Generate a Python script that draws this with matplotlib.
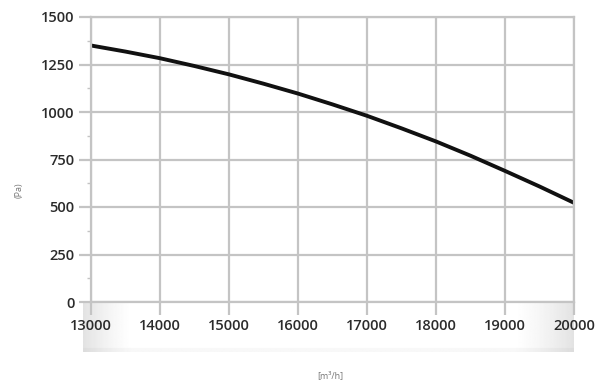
import numpy as np
import matplotlib
matplotlib.use('Agg')
import matplotlib.pyplot as plt
from matplotlib.ticker import MultipleLocator

# fan curve: airflow (m3/h) vs static pressure (Pa)
airflow = [13000, 13500, 14000, 14500, 15000, 15500, 16000, 16500,
           17000, 17500, 18000, 18500, 19000, 19500, 20000]
pressure = [1350, 1318, 1283, 1242, 1198, 1149, 1097, 1040,
            980, 914, 845, 770, 690, 608, 522]

x_ticks = [13000, 14000, 15000, 16000, 17000, 18000, 19000, 20000]
y_ticks = [0, 250, 500, 750, 1000, 1250, 1500]

grid_col = '#c4c4c4'
text_col = '#2b2b2b'

plt.rcParams['font.family'] = ['Open Sans', 'DejaVu Sans']

fig = plt.figure(figsize=(6.01, 3.83), dpi=100)

# soft grey band under the x axis
band = fig.add_axes([83 / 601, 1 - 352 / 383, (574 - 83) / 601, 49 / 383])
xs = np.linspace(0, 1, 400)
left = np.clip(1 - xs / 0.10, 0, 1)
right = np.clip((xs - 0.88) / 0.12, 0, 1)
row = 1 - 0.11 * np.maximum(left, right) ** 1.3
ys = np.linspace(0, 1, 60)
col = np.where(ys > 0.93, 0.97, 1.0)
img = np.outer(col, row)
band.imshow(img, cmap='gray', vmin=0, vmax=1, aspect='auto', interpolation='bilinear')
band.axis('off')

ax = fig.add_axes([91 / 601, 1 - 302 / 383, (574 - 91) / 601, (302 - 17) / 383])
ax.set_xlim(13000, 20000)
ax.set_ylim(0, 1500)
ax.set_xticks(x_ticks)
ax.set_yticks(y_ticks)
ax.yaxis.set_minor_locator(MultipleLocator(125))
ax.grid(True, color=grid_col, linewidth=1.6)
ax.set_axisbelow(True)
for side in ['top', 'right', 'bottom', 'left']:
    ax.spines[side].set_color(grid_col)
    ax.spines[side].set_linewidth(1.6)

ax.tick_params(axis='both', which='major', length=9, width=1.6, color=grid_col,
               labelsize=10.5, labelcolor=text_col, pad=3)
ax.tick_params(axis='y', which='minor', length=3, width=1, color=grid_col)
for lab in ax.get_xticklabels() + ax.get_yticklabels():
    lab.set_fontweight('semibold')

ax.plot(airflow, pressure, color='#111111', linewidth=2.8, solid_capstyle='butt')

fig.text(19 / 601, 1 - 190 / 383, '(Pa)', rotation=90, fontsize=6.5,
         color='#777777', ha='center', va='center')
fig.text(330 / 601, 1 - 376 / 383, '[m³/h]', fontsize=6.5,
         color='#777777', ha='center', va='center')

plt.savefig('out.png', dpi=100)
